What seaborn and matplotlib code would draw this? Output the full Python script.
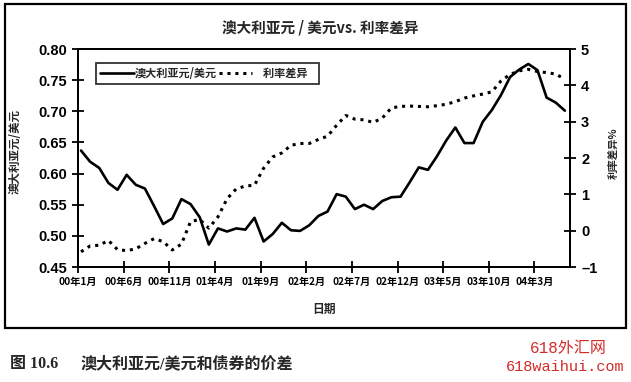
import numpy as np
import pandas as pd
import seaborn as sns
import matplotlib.pyplot as plt
from matplotlib.lines import Line2D
from matplotlib.patches import Rectangle

# monthly data, Jan 2000 - Jun 2004
aud_usd = [0.637, 0.619, 0.609, 0.585, 0.574, 0.598, 0.582, 0.576, 0.548, 0.519,
           0.528, 0.559, 0.551, 0.530, 0.486, 0.512, 0.507, 0.512, 0.510, 0.529,
           0.491, 0.503, 0.521, 0.509, 0.508, 0.517, 0.532, 0.539, 0.567, 0.563,
           0.543, 0.550, 0.543, 0.556, 0.562, 0.563, 0.586, 0.610, 0.606, 0.628,
           0.653, 0.674, 0.649, 0.649, 0.683, 0.702, 0.726, 0.755, 0.767, 0.776,
           0.766, 0.722, 0.714, 0.701]
rate_diff = [-0.58, -0.42, -0.40, -0.27, -0.52, -0.55, -0.50, -0.35, -0.22, -0.30,
             -0.53, -0.37, 0.25, 0.31, 0.07, 0.38, 0.88, 1.15, 1.23, 1.25,
             1.72, 2.03, 2.14, 2.35, 2.40, 2.40, 2.51, 2.60, 2.90, 3.17,
             3.07, 3.05, 2.98, 3.10, 3.38, 3.42, 3.43, 3.42, 3.41, 3.44,
             3.48, 3.55, 3.65, 3.71, 3.76, 3.82, 4.12, 4.30, 4.40, 4.44,
             4.38, 4.35, 4.31, 4.17]
tick_labels = ["00年1月", "00年6月", "00年11月", "01年4月", "01年9月", "02年2月",
               "02年7月", "02年12月", "03年5月", "03年10月", "04年3月"]

df = pd.DataFrame({"month": np.arange(len(aud_usd)), "aud": aud_usd, "diff": rate_diff})

sns.set_style("ticks")
plt.rcParams['font.family'] = ['Noto Sans CJK SC', 'DejaVu Sans']
plt.rcParams['font.weight'] = 'bold'

fig = plt.figure(figsize=(6.31, 3.82), dpi=100)
ax = fig.add_axes([0.1236, 0.301, 0.7797, 0.5707])
ax2 = ax.twinx()

dots = (0, (1.0, 1.6))
sns.lineplot(data=df, x="month", y="aud", ax=ax, color="black", linewidth=1.9)
sns.lineplot(data=df, x="month", y="diff", ax=ax2, color="black", linewidth=2.2,
             linestyle=dots)

off = 0.33
ax.set_xlim(-off, 53.56)
ax.set_ylim(0.45, 0.80)
ax.set_yticks(np.arange(0.45, 0.801, 0.05))
ax.set_yticklabels([f"{v:.2f}" for v in np.arange(0.45, 0.801, 0.05)],
                   fontsize=10.5, fontweight='bold', family=['Liberation Sans'])
ax.set_xticks(np.arange(0, 51, 5) - off)
ax.set_xticklabels(tick_labels, fontsize=7.3, fontweight='bold')
ax2.set_ylim(-1, 5)
ax2.set_yticks(range(-1, 6))
ax2.set_yticklabels(["–1", "0", "1", "2", "3", "4", "5"], fontsize=10.5,
                    fontweight='bold', family=['Liberation Sans'])

for a in (ax, ax2):
    for s in a.spines.values():
        s.set_linewidth(1.4)
        s.set_color("black")
ax.tick_params(axis='both', direction='inout', length=8, width=1.3, colors='black')
ax.tick_params(axis='y', pad=4)
ax.tick_params(axis='x', pad=3)
ax2.tick_params(axis='y', direction='inout', length=8, width=1.3, colors='black', pad=4)

ax.set_xlabel("日期", fontsize=8.5, fontweight='bold', labelpad=12)
ax.set_ylabel("澳大利亚元/美元", fontsize=8.3, fontweight='bold')
ax.yaxis.set_label_coords(-0.115, 0.53)
ax2.set_ylabel("利率差异%", fontsize=7.5, fontweight='bold', rotation=90)
ax2.yaxis.set_label_coords(1.081, 0.523)

fig.text(0.508, 0.929, "澳大利亚元 / 美元vs. 利率差异", ha='center', va='center',
         fontsize=10.5, fontweight='bold')

handles = [Line2D([], [], color='black', lw=1.9),
           Line2D([], [], color='black', lw=2.2, linestyle=dots)]
leg = ax.legend(handles, ["澳大利亚元/美元", "    利率差异   "], ncol=2, loc='upper left',
                bbox_to_anchor=(0.026, 0.962), fontsize=8, frameon=True, fancybox=False,
                handlelength=3.0, handletextpad=0.1, columnspacing=0.2, borderpad=0.35)
leg.get_frame().set_edgecolor('black')
leg.get_frame().set_linewidth(1.3)

fig.patches.append(Rectangle((0.0079, 0.1414), 0.984, 0.848, transform=fig.transFigure,
                             fill=False, edgecolor='black', linewidth=1.6))

fig.text(0.016, 0.026, "图 10.6", ha='left', va='bottom',
         fontsize=11.5, fontweight='bold', family=['Liberation Serif', 'Noto Sans CJK SC'])
fig.text(0.127, 0.026, "澳大利亚元/美元和债券的价差", ha='left', va='bottom',
         fontsize=11.5, fontweight='bold', family=['Liberation Serif', 'Noto Sans CJK SC'])
fig.text(0.9, 0.068, "618外汇网", ha='center', va='bottom', fontsize=11.5,
         color='#d42a2a', family=['Liberation Mono', 'Noto Sans CJK SC'], fontweight='normal')
fig.text(0.99, 0.02, "618waihui.com", ha='right', va='bottom', fontsize=11,
         color='#d42a2a', family=['Liberation Mono', 'Noto Sans CJK SC'], fontweight='normal')

fig.savefig("out.png", dpi=100)
